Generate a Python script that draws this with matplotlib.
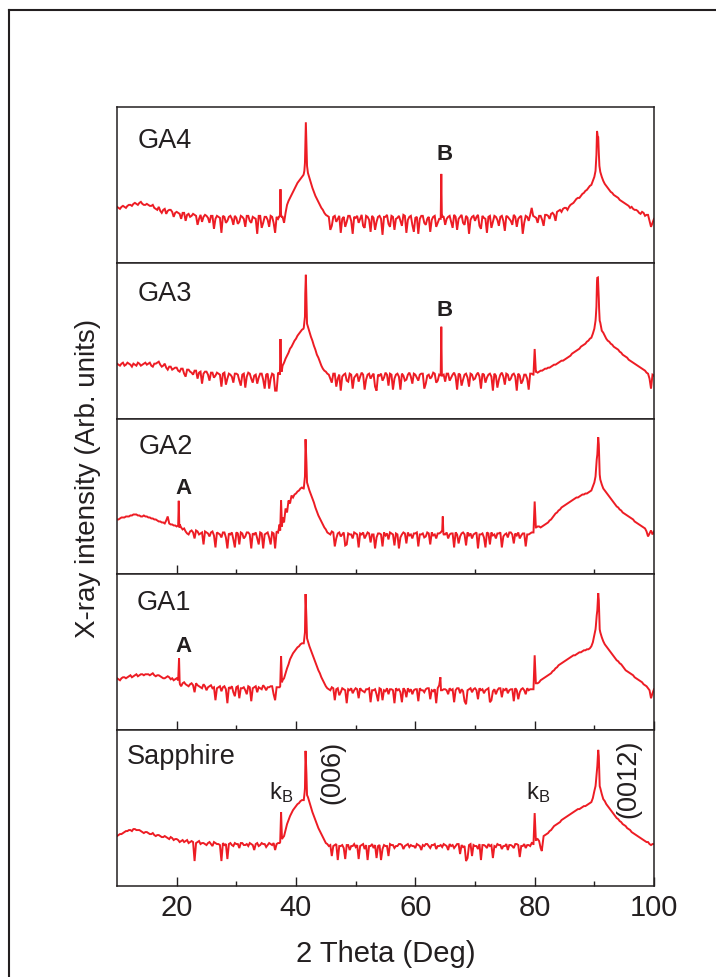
import matplotlib
matplotlib.use('Agg')
import matplotlib.pyplot as plt
from matplotlib.lines import Line2D

plt.rcParams['font.family'] = ['Liberation Sans', 'DejaVu Sans']
plt.rcParams['mathtext.fontset'] = 'custom'
plt.rcParams['mathtext.rm'] = 'Liberation Sans'
plt.rcParams['mathtext.it'] = 'Liberation Sans:italic'
plt.rcParams['mathtext.bf'] = 'Liberation Sans:bold'

W, H = 716, 977
RED = '#ED1C24'
INK = '#231F20'

# ---------------- data (intensity, arb. units) ----------------
# *_grid: read every 0.5 deg from 10.0 to 100.0 (181 values)
# *_mid : read every 0.5 deg from 10.25 to 99.75 (180 values)
# *_peak_x / *_peak_y: extra readings on the narrow peaks
grid_start, grid_step = 10.0, 0.5
mid_start = 10.25

ga4_grid = [
    56, 54, 57, 55, 58, 57, 60, 58, 61, 58,
    59, 57, 58, 54, 56, 50, 54, 52, 53, 46,
    51, 49, 50, 42, 49, 47, 48, 38, 48, 46,
    47, 40, 47, 44, 46, 30, 46, 42, 47, 38,
    45, 41, 46, 36, 47, 40, 45, 29, 47, 40,
    46, 36, 46, 30, 44, 48, 40, 58, 65, 71,
    77, 82, 86, 100, 90, 80, 71, 64, 58, 53,
    48, 46, 37, 47, 44, 30, 46, 41, 47, 29,
    45, 40, 48, 35, 46, 31, 45, 41, 47, 28,
    46, 39, 47, 33, 45, 42, 48, 30, 46, 38,
    45, 29, 47, 40, 44, 31, 46, 36, 44, 47,
    38, 46, 41, 48, 33, 46, 40, 47, 29, 46,
    42, 48, 34, 45, 30, 47, 41, 46, 37, 47,
    32, 46, 42, 48, 36, 46, 29, 47, 42, 55,
    46, 40, 47, 37, 48, 44, 50, 42, 52, 51,
    55, 53, 58, 60, 64, 65, 69, 72, 75, 78,
    86, 130, 91, 82, 77, 73, 70, 67, 65, 62,
    60, 58, 55, 54, 53, 50, 51, 47, 48, 36,
    44]
ga4_mid = [
    55, 56, 56, 57, 58, 59, 59, 60, 59, 58,
    58, 57, 55, 53, 52, 53, 49, 53, 51, 50,
    50, 44, 50, 48, 46, 49, 47, 44, 41, 48,
    45, 47, 34, 47, 45, 47, 40, 46, 44, 47,
    39, 47, 44, 47, 42, 46, 44, 47, 35, 46,
    43, 47, 40, 46, 47, 46, 50, 62, 68, 74,
    80, 84, 88, 97, 85, 75, 67, 61, 55, 50,
    47, 33, 46, 41, 47, 44, 36, 47, 42, 46,
    47, 44, 37, 47, 43, 47, 33, 46, 44, 46,
    48, 36, 46, 44, 47, 37, 47, 43, 47, 31,
    46, 44, 47, 38, 46, 43, 47, 40, 44, 46,
    44, 47, 35, 46, 44, 48, 38, 45, 43, 47,
    46, 37, 47, 44, 46, 35, 47, 43, 46, 42,
    47, 44, 38, 46, 44, 47, 40, 46, 48, 47,
    45, 47, 43, 48, 47, 49, 48, 51, 53, 54,
    55, 56, 59, 62, 65, 67, 70, 73, 77, 82,
    98, 110, 86, 79, 75, 71, 68, 66, 63, 61,
    59, 57, 56, 53, 52, 49, 50, 48, 42, 40]
ga4_peak_x = [37.3, 37.4, 37.6, 41.3, 41.4, 41.55, 41.65, 41.75, 41.85,
              64.25, 64.35, 64.45, 90.2, 90.35, 90.45, 90.55, 90.65, 90.75, 90.85]
ga4_peak_y = [46, 73.7, 46, 89, 92, 115, 140.7, 118, 97,
              44, 89, 45, 92, 108, 132, 127, 126, 110, 97]

ga3_grid = [
    55, 53, 56, 54, 55, 52, 54, 56, 53, 55,
    54, 56, 52, 55, 57, 52, 55, 49, 52, 50,
    51, 47, 50, 42, 49, 46, 48, 40, 47, 45,
    47, 38, 46, 43, 45, 32, 46, 40, 44, 36,
    45, 38, 44, 31, 46, 40, 43, 35, 45, 39,
    44, 30, 45, 28, 46, 50, 56, 63, 70, 75,
    80, 85, 89, 102, 92, 82, 73, 64, 57, 50,
    47, 44, 36, 45, 40, 28, 44, 38, 45, 30,
    43, 37, 46, 29, 44, 40, 45, 28, 43, 38,
    46, 33, 44, 40, 45, 29, 43, 39, 46, 35,
    44, 38, 45, 30, 43, 40, 46, 36, 44, 43,
    37, 45, 41, 46, 29, 44, 39, 45, 32, 44,
    40, 46, 30, 44, 41, 45, 28, 43, 39, 46,
    34, 44, 40, 45, 28, 43, 38, 44, 29, 45,
    69.7, 46, 48, 49, 50, 51, 53, 54, 56, 58,
    59, 61, 63, 66, 68, 70, 73, 75, 78, 81,
    90, 141, 96, 86, 80, 77, 74, 71, 69, 66,
    63, 61, 58, 56, 54, 52, 50, 48, 45, 30,
    43]
ga3_mid = [
    54, 55, 53, 56, 54, 55, 53, 55, 54, 56,
    55, 53, 55, 56, 54, 53, 51, 52, 49, 51,
    48, 50, 45, 49, 47, 44, 48, 46, 35, 47,
    44, 46, 41, 46, 44, 45, 34, 45, 42, 45,
    44, 33, 45, 42, 45, 36, 44, 41, 45, 30,
    45, 40, 44, 28, 45, 53, 60, 66, 72, 78,
    83, 87, 90, 120, 87, 78, 69, 61, 53, 48,
    45, 40, 45, 32, 44, 42, 45, 37, 44, 41,
    45, 42, 44, 39, 45, 43, 32, 44, 45, 41,
    44, 45, 29, 44, 42, 45, 38, 44, 42, 45,
    41, 44, 45, 35, 44, 42, 45, 38, 43, 44,
    45, 38, 44, 42, 45, 33, 44, 41, 45, 39,
    44, 42, 45, 36, 44, 42, 45, 31, 44, 42,
    45, 38, 44, 42, 45, 35, 44, 40, 45, 44,
    47, 47, 48, 50, 51, 52, 54, 55, 57, 58,
    60, 62, 65, 67, 69, 72, 74, 77, 80, 85,
    102, 120, 88, 83, 78, 75, 72, 70, 67, 64,
    62, 59, 57, 55, 53, 51, 49, 46, 40, 44]
ga3_peak_x = [37.3, 37.4, 37.6, 41.3, 41.45, 41.55, 41.65, 41.75, 41.85,
              64.25, 64.35, 64.45, 79.8, 80.2, 90.2, 90.35, 90.45, 90.6, 90.7, 90.8, 90.9]
ga3_peak_y = [44, 79.7, 47, 91, 100, 125, 144, 120, 95,
              43, 92, 44, 44, 47, 98, 112, 138, 141.3, 128, 110, 98]

ga2_grid = [
    55, 56, 57, 58, 58, 59, 60, 59, 58, 59,
    58, 57, 56, 55, 53, 52, 51, 58, 50, 49,
    48, 50, 45, 43, 40, 44, 36, 43, 41, 30,
    42, 38, 43, 27, 41, 37, 42, 26, 40, 35,
    42, 30, 41, 38, 42, 26, 40, 36, 42, 26,
    41, 37, 42, 26, 42, 74, 52, 62, 71, 77,
    81, 84, 87, 98, 89, 80, 72, 63, 56, 50,
    45, 41, 43, 28, 41, 38, 42, 30, 40, 36,
    41, 27, 40, 36, 42, 32, 40, 37, 41, 28,
    39, 35, 41, 29, 40, 37, 42, 31, 39, 36,
    41, 28, 40, 37, 42, 30, 39, 36, 41, 44,
    40, 36, 41, 27, 40, 38, 42, 29, 39, 36,
    41, 26, 40, 37, 42, 30, 39, 36, 41, 27,
    40, 37, 42, 31, 39, 36, 41, 28, 40, 42,
    73, 48, 47, 49, 51, 54, 57, 61, 64, 67,
    69, 71, 73, 75, 77, 78, 80, 81, 82, 84,
    92, 120, 95, 86, 82, 78, 74, 70, 67, 64,
    61, 59, 57, 55, 52, 50, 48, 46, 38, 44,
    43]
ga2_mid = [
    55, 57, 57, 58, 59, 60, 60, 59, 58, 58,
    57, 56, 55, 54, 53, 52, 54, 51, 50, 49,
    49, 47, 46, 41, 43, 42, 44, 40, 42, 43,
    41, 42, 39, 42, 40, 42, 37, 41, 42, 27,
    41, 42, 36, 42, 40, 41, 42, 30, 41, 40,
    42, 30, 41, 43, 50, 57, 66, 74, 79, 80,
    83, 86, 86, 112, 84, 76, 67, 59, 53, 47,
    42, 40, 42, 36, 42, 40, 29, 41, 40, 42,
    40, 41, 42, 39, 41, 40, 26, 41, 40, 42,
    41, 42, 40, 41, 26, 40, 41, 42, 40, 41,
    42, 40, 41, 38, 41, 42, 40, 41, 42, 40,
    42, 40, 41, 42, 31, 41, 40, 42, 41, 40,
    42, 40, 41, 27, 41, 42, 40, 41, 42, 38,
    41, 42, 40, 41, 42, 39, 41, 40, 41, 42,
    47, 48, 48, 50, 52, 55, 59, 62, 65, 68,
    70, 72, 74, 76, 77, 79, 80, 81, 83, 88,
    102, 130, 90, 84, 80, 76, 72, 68, 65, 62,
    60, 58, 56, 53, 51, 49, 47, 43, 41, 40]
ga2_peak_x = [20.25, 20.35, 20.45, 37.35, 37.65, 41.3, 41.45, 41.6, 41.75, 41.85,
              64.6, 64.7, 79.8, 80.2, 90.2, 90.4, 90.65, 90.75, 90.9]
ga2_peak_y = [49, 73.7, 47, 44, 48, 86, 95, 135.3, 112, 92,
              58, 41, 42, 47, 98, 115, 137.3, 130, 100]

ga1_grid = [
    52, 50, 53, 52, 54, 53, 55, 54, 56, 55,
    56, 55, 57, 54, 55, 53, 52, 54, 51, 50,
    52, 48, 47, 46, 44, 47, 38, 45, 43, 46,
    40, 44, 42, 30, 43, 39, 44, 27, 42, 38,
    43, 32, 42, 40, 44, 29, 43, 38, 42, 45,
    40, 43, 44, 30, 43, 74, 52, 62, 71, 77,
    81, 84, 87, 98, 89, 80, 72, 64, 57, 50,
    44, 41, 43, 30, 42, 38, 41, 27, 40, 37,
    42, 32, 40, 38, 41, 28, 40, 36, 42, 30,
    39, 36, 41, 27, 40, 38, 42, 33, 39, 36,
    41, 29, 40, 38, 42, 31, 39, 27, 45, 40,
    41, 36, 40, 28, 42, 37, 39, 26, 41, 38,
    42, 31, 40, 37, 41, 28, 39, 36, 42, 33,
    40, 37, 41, 29, 40, 38, 42, 36, 40, 41,
    75, 47, 50, 52, 54, 56, 59, 62, 65, 67,
    69, 71, 73, 75, 76, 78, 79, 80, 81, 84,
    95, 120, 98, 89, 84, 80, 76, 72, 69, 66,
    62, 59, 57, 55, 52, 50, 48, 45, 42, 32,
    41]
ga1_mid = [
    51, 52, 53, 53, 55, 54, 56, 55, 56, 56,
    56, 56, 55, 55, 54, 52, 53, 53, 52, 51,
    50, 44, 48, 45, 46, 45, 47, 44, 42, 44,
    43, 45, 43, 42, 44, 43, 41, 43, 44, 34,
    44, 42, 43, 36, 43, 42, 44, 43, 41, 43,
    43, 44, 36, 43, 43, 50, 57, 66, 74, 79,
    83, 86, 87, 112, 84, 76, 68, 60, 53, 47,
    42, 40, 42, 41, 35, 42, 40, 41, 42, 40,
    41, 42, 39, 41, 42, 40, 41, 29, 41, 40,
    42, 41, 40, 42, 41, 28, 40, 42, 41, 40,
    41, 42, 40, 41, 42, 40, 41, 42, 47, 41,
    40, 42, 41, 40, 42, 41, 29, 40, 42, 41,
    40, 42, 41, 40, 42, 30, 41, 40, 42, 41,
    42, 40, 41, 42, 31, 41, 40, 42, 41, 41,
    47, 48, 51, 53, 55, 57, 60, 63, 66, 68,
    70, 72, 74, 75, 77, 78, 80, 81, 82, 88,
    104, 130, 93, 86, 82, 78, 74, 70, 67, 64,
    60, 58, 56, 53, 51, 49, 46, 44, 40, 37]
ga1_peak_x = [20.25, 20.4, 20.55, 37.35, 37.65, 41.3, 41.45, 41.6, 41.75, 41.85,
              64.2, 64.3, 79.8, 80.2, 90.2, 90.4, 90.65, 90.75, 90.9]
ga1_peak_y = [50, 72, 46, 44, 48, 87, 95, 136.3, 112, 92,
              53, 40, 41, 47, 101, 115, 137.3, 130, 101]

sapphire_grid = [
    50, 52, 53, 55, 56, 55, 57, 56, 55, 53,
    54, 52, 53, 50, 51, 49, 50, 48, 49, 46,
    47, 44, 46, 45, 43, 45, 25, 44, 42, 43,
    41, 44, 40, 43, 42, 25, 41, 27, 43, 40,
    42, 38, 43, 41, 40, 42, 36, 43, 41, 42,
    39, 43, 41, 36, 43, 74, 50, 62, 70, 76,
    80, 83, 86, 98, 89, 79, 70, 62, 55, 49,
    43, 40, 30, 41, 26, 40, 38, 41, 36, 40,
    39, 27, 41, 37, 26, 40, 38, 28, 41, 37,
    40, 30, 41, 38, 40, 42, 37, 41, 39, 40,
    38, 41, 36, 40, 42, 38, 41, 37, 40, 39,
    41, 36, 40, 38, 42, 32, 39, 25, 41, 30,
    40, 37, 26, 41, 38, 40, 28, 39, 41, 37,
    40, 36, 41, 38, 42, 29, 40, 38, 41, 43,
    73, 47, 38, 50, 52, 55, 58, 61, 63, 66,
    68, 70, 72, 74, 76, 77, 79, 80, 82, 84,
    95, 120, 98, 87, 82, 78, 74, 70, 67, 64,
    61, 58, 56, 53, 51, 49, 47, 45, 44, 41,
    42]
sapphire_mid = [
    51, 52, 54, 55, 56, 57, 56, 56, 54, 54,
    53, 52, 51, 51, 50, 49, 49, 47, 48, 47,
    46, 45, 44, 46, 44, 44, 43, 45, 43, 42,
    43, 42, 44, 42, 41, 43, 42, 42, 41, 43,
    42, 43, 41, 42, 43, 41, 42, 40, 43, 42,
    41, 42, 43, 42, 43, 48, 56, 66, 73, 78,
    82, 85, 86, 112, 84, 74, 66, 58, 52, 46,
    42, 41, 40, 42, 40, 41, 27, 41, 40, 42,
    41, 40, 42, 41, 40, 42, 41, 40, 26, 41,
    40, 42, 41, 40, 42, 41, 40, 42, 41, 40,
    42, 40, 41, 42, 40, 41, 42, 40, 41, 42,
    40, 42, 41, 40, 42, 41, 40, 28, 42, 41,
    40, 42, 41, 40, 42, 41, 40, 42, 41, 40,
    42, 41, 40, 42, 41, 40, 42, 41, 40, 42,
    46, 45, 38, 51, 53, 56, 60, 62, 64, 67,
    69, 71, 73, 75, 77, 78, 80, 81, 83, 88,
    103, 130, 92, 85, 80, 76, 72, 68, 65, 62,
    60, 57, 54, 52, 50, 48, 46, 44, 42, 42]
sapphire_peak_x = [37.35, 37.65, 41.3, 41.45, 41.6, 41.75, 41.85,
                   79.8, 80.2, 81.2, 90.2, 90.4, 90.65, 90.75, 90.9]
sapphire_peak_y = [44, 47, 86, 94, 135.3, 112, 91,
                   42, 46, 35, 100, 114, 136.3, 130, 100]

sample_names = ['GA4', 'GA3', 'GA2', 'GA1', 'Sapphire']
grids = [ga4_grid, ga3_grid, ga2_grid, ga1_grid, sapphire_grid]
mids = [ga4_mid, ga3_mid, ga2_mid, ga1_mid, sapphire_mid]
peaks_x = [ga4_peak_x, ga3_peak_x, ga2_peak_x, ga1_peak_x, sapphire_peak_x]
peaks_y = [ga4_peak_y, ga3_peak_y, ga2_peak_y, ga1_peak_y, sapphire_peak_y]

x_ticks_major = [20, 40, 60, 80, 100]
x_ticks_minor = [30, 50, 70, 90]


def merge(grid, mid, px, py):
    assert len(grid) == 181, len(grid)
    assert len(mid) == 180, len(mid)
    d = {grid_start + grid_step * i: v for i, v in enumerate(grid)}
    d.update({mid_start + grid_step * i: v for i, v in enumerate(mid)})
    d.update(zip(px, py))
    xs = sorted(d)
    return xs, [d[k] for k in xs]


def fx(x):
    return x / W


def fy(y):
    return 1 - y / H


fig = plt.figure(figsize=(W / 100, H / 100), dpi=100)

left_px, right_px, top_px, bottom_px = 117, 654, 107, 886
panel_h = (bottom_px - top_px) / 5

for i, name in enumerate(sample_names):
    y_top = top_px + i * panel_h
    ax = fig.add_axes([fx(left_px), fy(y_top + panel_h), (right_px - left_px) / W, panel_h / H])
    xs, ys = merge(grids[i], mids[i], peaks_x[i], peaks_y[i])
    ax.plot(xs, ys, color=RED, lw=1.4, solid_joinstyle='miter')
    ax.set_xlim(10, 100)
    ax.set_ylim(0, 156)
    ax.set_yticks([])
    for s in ax.spines.values():
        s.set_color(INK)
        s.set_linewidth(1.1)
    ax.tick_params(axis='x', which='both', direction='in', top=False, bottom=True,
                   colors=INK, width=1.0, labelbottom=False)
    ax.tick_params(axis='x', which='major', length=6.5)
    ax.tick_params(axis='x', which='minor', length=3.3)
    if name in ('GA4', 'GA3'):
        ax.set_xticks([])
        ax.set_xticks([], minor=True)
    elif name == 'GA2':
        ax.set_xticks([20, 40])
        ax.set_xticks(x_ticks_minor, minor=True)
    else:
        ax.set_xticks(x_ticks_major)
        ax.set_xticks(x_ticks_minor, minor=True)
    if name == 'Sapphire':
        ax.tick_params(axis='x', which='major', labelbottom=True, labelsize=21, pad=6,
                       labelcolor=INK)

# panel labels
label_pos = [(138, 148), (138, 301), (139, 454), (136.5, 610), (127, 764)]
for name, (x, y) in zip(sample_names, label_pos):
    fig.text(fx(x), fy(y), name, fontsize=19.5, color=INK, ha='left', va='baseline')

# peak markers
for txt, x, y in [('B', 445, 160), ('B', 444.5, 316), ('A', 183, 494), ('A', 183, 652)]:
    fig.text(fx(x), fy(y), txt, fontsize=16, fontweight='bold', color=INK,
             ha='center', va='baseline')

for x in (269, 526):
    fig.text(fx(x), fy(799), r'k$_{\mathrm{B}}$', fontsize=17, color=INK,
             ha='left', va='baseline')

fig.text(fx(332), fy(772.5), '(006)', fontsize=19.5, color=INK, rotation=90,
         ha='center', va='center')
fig.text(fx(628), fy(778.5), '(0012)', fontsize=19.5, color=INK, rotation=90,
         ha='center', va='center')

# axis labels
fig.text(fx(385.5), fy(962), '2 Theta (Deg)', fontsize=21, color=INK,
         ha='center', va='baseline')
fig.text(fx(88), fy(478), 'X-ray intensity (Arb. units)', fontsize=20, color=INK,
         rotation=90, ha='center', va='center')

# outer frame (left and top edges visible)
fig.add_artist(Line2D([fx(8.5), fx(8.5)], [fy(10), 0], transform=fig.transFigure,
                      color=INK, lw=1.5))
fig.add_artist(Line2D([fx(8.5), 1], [fy(10), fy(10)], transform=fig.transFigure,
                      color=INK, lw=1.5))

fig.savefig('out.png', dpi=100)
